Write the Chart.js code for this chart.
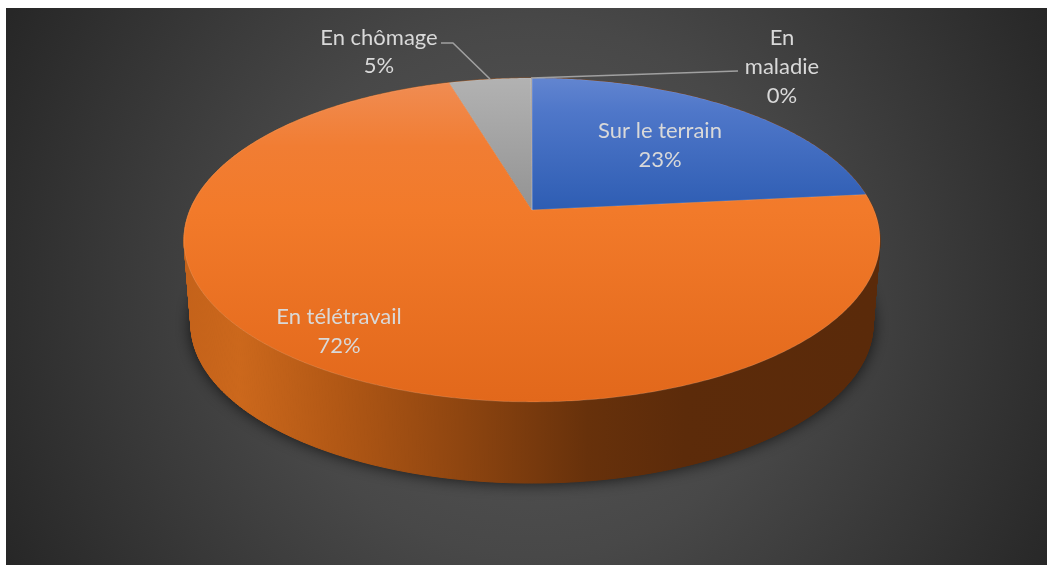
<!DOCTYPE html>
<html><head><meta charset="utf-8">
<style>html,body{margin:0;padding:0;background:#fff;overflow:hidden}canvas{display:block}</style>
<script src="https://cdn.jsdelivr.net/npm/chart.js@4"></script>
</head><body><canvas id="c" width="1047" height="565"></canvas>
<script>
const categories = ['Sur le terrain', 'En télétravail', 'En chômage', 'En maladie'];
const shares = [23.4, 72.0, 4.55, 0.05];

// Drawing constants: projection of the pie plane
const P = 0.185, RX = 342, KY = 156.4, BOTTOM_Y = 295, BOTTOM_S = 0.98;
const faceStops = [
  [[0,'#6285D0'],[0.25,'#4F77C9'],[1,'#2E5DB3']],
  [[0,'#F08C52'],[0.2,'#F17D33'],[0.4,'#F27A2A'],[1,'#E2681B']],
  [[0,'#B2B2B2'],[1,'#939393']],
  [[0,'#A8A8A8'],[1,'#A8A8A8']]
];
const labelLines = [
  [['Sur le terrain',660,131],['%',660,160]],
  [['En télétravail',339,317],['%',339,346]],
  [['En chômage',379,38],['%',379,66]],
  [['En',782,38],['maladie',782,67],['%',782,96]]
];
const leaders = [[[441,43],[453,43],[490,79]], [[531,78],[620,75],[738,71]]];

function project(a, cx, cy, bottom) {
  const u = Math.cos(a), v = -Math.sin(a), w = 1 + P * v;
  const s = bottom ? BOTTOM_S : 1, y0 = bottom ? BOTTOM_Y : cy;
  return [cx + s * RX * u / w, y0 - s * KY * v / w];
}
function rim(a0, a1, cx, cy, bottom) {
  const n = Math.max(2, Math.ceil((a1 - a0) / 0.01)), pts = [];
  for (let i = 0; i <= n; i++) pts.push(project(a0 + (a1 - a0) * i / n, cx, cy, bottom));
  return pts;
}
function trace(ctx, pts) {
  ctx.beginPath();
  pts.forEach((p, i) => i ? ctx.lineTo(p[0], p[1]) : ctx.moveTo(p[0], p[1]));
  ctx.closePath();
}
const perspectivePie = {
  id: 'perspectivePie',
  beforeDraw(chart) {
    const c = chart.ctx;
    const g = c.createRadialGradient(532, 290, 0, 532, 290, 590);
    g.addColorStop(0, '#585858'); g.addColorStop(0.45, '#484848'); g.addColorStop(1, '#272727');
    c.fillStyle = g; c.fillRect(6, 8, 1041, 557);
  },
  beforeDatasetDraw(chart) {
    const c = chart.ctx, arcs = chart.getDatasetMeta(0).data;
    const cx = arcs[0].x, cy = arcs[0].y;
    // cast shadow of the body
    c.save();
    c.shadowColor = 'rgba(0,0,0,0.75)'; c.shadowBlur = 16; c.shadowOffsetX = 0; c.shadowOffsetY = 0;
    c.fillStyle = '#5a2a0a';
    trace(c, rim(0, Math.PI * 2, cx, cy, true)); c.fill();
    c.restore();
    // side wall
    const side = c.createLinearGradient(184, 0, 880, 0);
    [[0,'#C4621A'],[0.08,'#CC681C'],[0.22,'#B25815'],[0.4,'#8E4510'],[0.58,'#67310B'],[0.72,'#5C2B0A'],[1,'#5A2A0A']]
      .forEach(s => side.addColorStop(s[0], s[1]));
    arcs.forEach((el) => {
      const t = rim(el.startAngle, el.endAngle, cx, cy, false), b = rim(el.startAngle, el.endAngle, cx, cy, true);
      c.fillStyle = side; c.strokeStyle = side; c.lineWidth = 1;
      for (let i = 0; i < t.length - 1; i++) {
        trace(c, [t[i], t[i+1], b[i+1], b[i]]); c.fill(); c.stroke();
      }
    });
    // top faces
    arcs.forEach((el, i) => {
      const pts = [[cx, cy]].concat(rim(el.startAngle, el.endAngle, cx, cy, false));
      const ys = pts.map(p => p[1]);
      const g = c.createLinearGradient(0, Math.min(...ys), 0, Math.max(...ys));
      faceStops[i].forEach(s => g.addColorStop(s[0], s[1]));
      trace(c, pts); c.fillStyle = g; c.fill();
      c.strokeStyle = 'rgba(255,255,255,0.13)'; c.lineWidth = 1; c.stroke();
    });
    return false;
  },
  afterDatasetsDraw(chart) {
    const c = chart.ctx, vals = chart.data.datasets[0].data;
    const total = vals.reduce((a, b) => a + b, 0);
    c.save();
    c.strokeStyle = '#A0A0A0'; c.lineWidth = 1.6; c.lineJoin = 'round';
    leaders.forEach(l => { c.beginPath(); l.forEach((p, i) => i ? c.lineTo(p[0], p[1]) : c.moveTo(p[0], p[1])); c.stroke(); });
    c.fillStyle = '#D9D9D9'; c.font = '22px Lato, "Open Sans", sans-serif';
    c.textAlign = 'center'; c.textBaseline = 'middle';
    labelLines.forEach((lines, i) => lines.forEach(([t, x, y]) => {
      c.fillText(t === '%' ? Math.round(vals[i] / total * 100) + '%' : t, x, y);
    }));
    c.restore();
  }
};
new Chart(document.getElementById('c'), {
  type: 'pie',
  data: { labels: categories, datasets: [{ data: shares, borderWidth: 0 }] },
  options: {
    responsive: false, animation: false, devicePixelRatio: 1,
    layout: { padding: { left: 17, right: 0, top: 0, bottom: 145 } },
    plugins: { legend: { display: false }, tooltip: { enabled: false } }
  },
  plugins: [perspectivePie]
});
</script></body></html>
